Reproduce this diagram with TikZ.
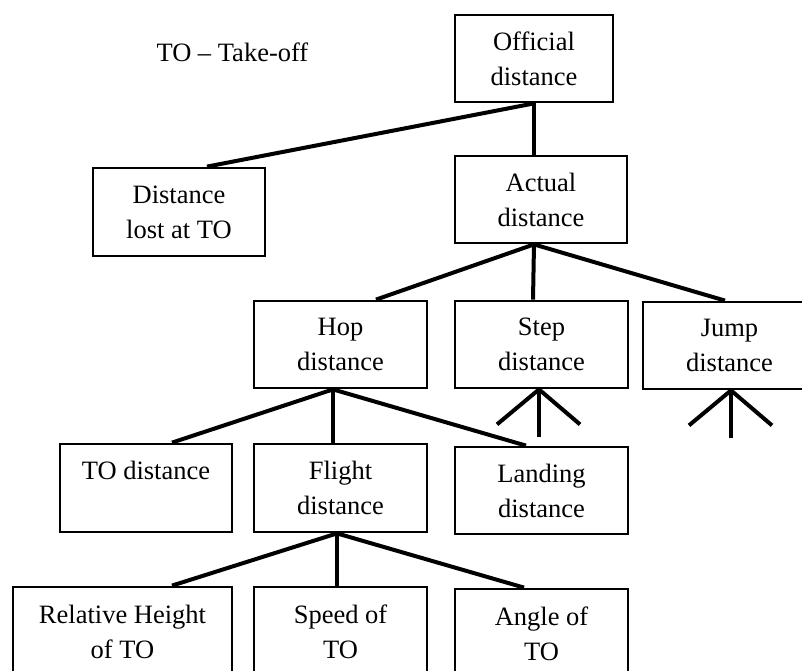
\documentclass[tikz,border=0pt]{standalone}
\usepackage{fontspec}
\setmainfont{Liberation Serif}

\begin{document}
\begin{tikzpicture}[
      x=1pt, y=-1pt,
      box/.style={draw,line width=2.8pt,align=center,inner sep=0pt,minimum width=173pt,minimum height=87pt},
      link/.style={line width=4pt},
      every node/.style={font=\fontsize{26.5}{35}\selectfont}
    ]
      \useasboundingbox (0,0) rectangle (802,671);
      \node[anchor=base west] (note) at (153,62) {TO – Take-off};

      \node[box,minimum width=158pt] (off) at (534,58.5) {Official\\distance};
      \node[box,minimum width=172pt,minimum height=88pt] (lost) at (179,212) {Distance\\lost at TO};
      \node[box,minimum width=172pt] (act) at (541,199.5) {Actual\\distance};
      \node[box] (hop) at (340.5,344.5) {Hop\\distance};
      \node[box] (stp) at (541.5,344.5) {Step\\distance};
      \node[box] (jmp) at (729.5,345.5) {Jump\\distance};
      \node[box,minimum width=172pt,minimum height=88pt] (tod) at (146,488) {TO distance\\\mbox{}};
      \node[box,minimum height=88pt] (flt) at (340.5,488) {Flight\\distance};
      \node[box] (lnd) at (541.5,490.5) {Landing\\distance};
      \node[box,minimum width=219pt,minimum height=89pt] (rel) at (122.5,631.5) {Relative Height\\of TO};
      \node[box,minimum height=89pt] (spd) at (340.5,631.5) {Speed of\\TO};
      \node[box,minimum height=89pt] (ang) at (541.5,633.5) {Angle of\\TO};

      \draw[link] (off.south) -- ([xshift=28pt]lost.north);
      \draw[link] (off.south) -- ([xshift=-7pt]act.north);
      \draw[link] ([xshift=-7pt]act.south) -- ([xshift=35.5pt]hop.north);
      \draw[link] ([xshift=-7pt]act.south) -- ([xshift=-8.5pt]stp.north);
      \draw[link] ([xshift=-7pt]act.south) -- ([xshift=-4.5pt]jmp.north);
      \draw[link] ([xshift=-7.5pt]hop.south) -- ([xshift=26pt]tod.north);
      \draw[link] ([xshift=-7.5pt]hop.south) -- ([xshift=-7.5pt]flt.north);
      \draw[link] ([xshift=-7.5pt]hop.south) -- ([xshift=-15.5pt]lnd.north);
      \draw[link] ([xshift=-3.5pt]flt.south) -- ([xshift=49.5pt]rel.north);
      \draw[link] ([xshift=-3.5pt]flt.south) -- ([xshift=-3.5pt]spd.north);
      \draw[link] ([xshift=-3.5pt]flt.south) -- ([xshift=-17.5pt]ang.north);

      % open ends below step and jump
      \foreach \n/\dx in {stp/-2.5,jmp/1.5}{
        \coordinate (\n-top) at ([xshift=\dx pt]\n.south);
        \coordinate (\n-l) at ([xshift=-42pt,yshift=-35pt]\n-top);
        \coordinate (\n-r) at ([xshift=41pt,yshift=-35pt]\n-top);
        \coordinate (\n-d) at ([yshift=-48pt]\n-top);
        \draw[link] (\n-l) -- (\n-top) -- (\n-r);
        \draw[link] (\n-top) -- (\n-d);
      }
    \end{tikzpicture}
\end{document}
